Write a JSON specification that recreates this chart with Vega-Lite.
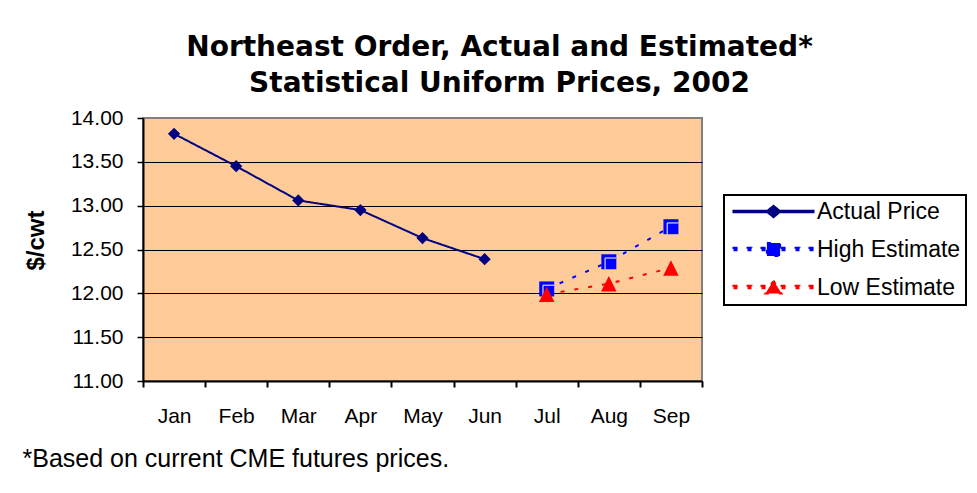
{
  "$schema": "https://vega.github.io/schema/vega-lite/v6.json",
  "width": 559,
  "height": 263,
  "autosize": "none",
  "padding": {"left": 143, "top": 118, "right": 275, "bottom": 112},
  "background": "white",
  "title": {
    "text": ["Northeast Order, Actual and Estimated*", "Statistical Uniform Prices, 2002"],
    "font": "DejaVu Sans",
    "fontSize": 28,
    "fontWeight": "bold",
    "color": "black",
    "anchor": "middle",
    "dx": 77,
    "offset": 9,
    "lineHeight": 36
  },
  "config": {
    "view": {"fill": "#FFCC99", "stroke": "#808080", "strokeWidth": 2},
    "font": "Liberation Sans",
    "legend": {"strokeWidth": 2}
  },
  "data": {
    "values": [
      {"month": "Jan", "series": "Actual Price", "price": 13.82},
      {"month": "Feb", "series": "Actual Price", "price": 13.45},
      {"month": "Mar", "series": "Actual Price", "price": 13.06},
      {"month": "Apr", "series": "Actual Price", "price": 12.95},
      {"month": "May", "series": "Actual Price", "price": 12.63},
      {"month": "Jun", "series": "Actual Price", "price": 12.39},
      {"month": "Jul", "series": "High Estimate", "price": 12.05},
      {"month": "Aug", "series": "High Estimate", "price": 12.36},
      {"month": "Sep", "series": "High Estimate", "price": 12.76},
      {"month": "Jul", "series": "Low Estimate", "price": 11.99},
      {"month": "Aug", "series": "Low Estimate", "price": 12.11},
      {"month": "Sep", "series": "Low Estimate", "price": 12.29}
    ]
  },
  "encoding": {
    "x": {
      "field": "month",
      "type": "nominal",
      "scale": {"type": "band", "paddingInner": 0, "paddingOuter": 0, "domain": ["Jan","Feb","Mar","Apr","May","Jun","Jul","Aug","Sep"]},
      "axis": {
        "title": "*Based on current CME futures prices.",
        "titleAnchor": "start",
        "titleAlign": "left",
        "titleX": -121,
        "titleY": 77,
        "titleBaseline": "middle",
        "titleFont": "Liberation Sans",
        "titleFontSize": 25,
        "titleFontWeight": "normal",
        "titleColor": "black",
        "tickBand": "extent",
        "labelAngle": 0,
        "labelFont": "Liberation Sans",
        "labelFontSize": 21,
        "labelColor": "black",
        "labelPadding": 18,
        "domainColor": "black",
        "domainWidth": 2,
        "tickColor": "black",
        "tickWidth": 2,
        "tickSize": 6,
        "grid": false
      }
    },
    "y": {
      "field": "price",
      "type": "quantitative",
      "scale": {"domain": [11, 14], "nice": false, "zero": false},
      "axis": {
        "title": "$/cwt",
        "titleFont": "Liberation Sans",
        "titleFontSize": 24,
        "titleFontWeight": "bold",
        "titleColor": "black",
        "titlePadding": 22,
        "titleY": 122,
        "values": [11, 11.5, 12, 12.5, 13, 13.5, 14],
        "format": ".2f",
        "labelFont": "Liberation Sans",
        "labelFontSize": 21,
        "labelColor": "black",
        "labelPadding": 14,
        "domainColor": "black",
        "domainWidth": 2,
        "tickColor": "black",
        "tickWidth": 1.5,
        "tickSize": 6,
        "grid": true,
        "gridColor": {"condition": {"test": "datum.value >= 14", "value": "#808080"}, "value": "black"},
        "gridWidth": 1,
        "gridOpacity": 1
      }
    }
  },
  "layer": [
    {
      "mark": {"type": "line", "strokeWidth": 2},
      "encoding": {
        "color": {
          "field": "series",
          "type": "nominal",
          "scale": {"domain": ["Actual Price", "High Estimate", "Low Estimate"], "range": ["#000080", "#0000FF", "#FF0000"]},
          "legend": {
            "title": null,
            "orient": "none",
            "legendX": 581,
            "legendY": 77,
            "strokeColor": "black",
            "fillColor": "white",
            "padding": 5,
            "rowPadding": 14,
            "labelFont": "Liberation Sans",
            "labelFontSize": 23,
            "labelColor": "black",
            "labelLimit": 300,
            "symbolSize": 144,
            "symbolStrokeWidth": 2,
            "symbolOffset": 33,
            "labelOffset": 32,
            "encode": {
              "symbols": {
                "update": {
                  "shape": {"signal": "datum.value === 'Actual Price' ? 'M-6.67,-0.12L6.67,-0.12L6.67,0.12L-6.67,0.12ZM-1.15,0L0,-0.95L1.15,0L0,0.95Z' : datum.value === 'High Estimate' ? 'M-6.67,-0.3L-6,-0.3L-6,0.3L-6.67,0.3ZM-4.33,-0.3L-3.67,-0.3L-3.67,0.3L-4.33,0.3ZM-2,-0.3L-1.33,-0.3L-1.33,0.3L-2,0.3ZM1.33,-0.3L2,-0.3L2,0.3L1.33,0.3ZM3.67,-0.3L4.33,-0.3L4.33,0.3L3.67,0.3ZM6,-0.3L6.67,-0.3L6.67,0.3L6,0.3ZM-1.1,-1.1L1.1,-1.1L1.1,1.1L-1.1,1.1Z' : 'M-6.67,-0.3L-6,-0.3L-6,0.3L-6.67,0.3ZM-4.33,-0.3L-3.67,-0.3L-3.67,0.3L-4.33,0.3ZM-2,-0.3L-1.33,-0.3L-1.33,0.3L-2,0.3ZM1.33,-0.3L2,-0.3L2,0.3L1.33,0.3ZM3.67,-0.3L4.33,-0.3L4.33,0.3L3.67,0.3ZM6,-0.3L6.67,-0.3L6.67,0.3L6,0.3ZM0,-1.15L1.35,1L-1.35,1Z'"},
                  "fill": {"signal": "datum.value === 'Actual Price' ? '#000080' : datum.value === 'High Estimate' ? '#0000FF' : '#FF0000'"},
                  "stroke": {"value": "transparent"},
                  "opacity": {"value": 1},
                  "fillOpacity": {"value": 1}
                }
              }
            }
          }
        },
        "strokeDash": {
          "field": "series",
          "type": "nominal",
          "scale": {"domain": ["Actual Price", "High Estimate", "Low Estimate"], "range": [[1, 0], [4, 10], [4, 10]]},
          "legend": null
        }
      }
    },
    {
      "transform": [{"filter": "datum.series === 'Actual Price'"}],
      "mark": {"type": "point", "filled": true, "shape": "diamond", "size": 150, "color": "#000080", "opacity": 1},
      "encoding": {}
    },
    {
      "transform": [{"filter": "datum.series === 'High Estimate'"}],
      "mark": {"type": "point", "filled": true, "shape": "square", "size": 225, "color": "#0000FF", "opacity": 1},
      "encoding": {}
    },
    {
      "transform": [{"filter": "datum.series === 'High Estimate'"}],
      "mark": {"type": "point", "filled": false, "shape": "M-0.5,1L-0.5,-0.5L1,-0.5", "size": 225, "stroke": "white", "strokeWidth": 1, "opacity": 1},
      "encoding": {}
    },
    {
      "transform": [{"filter": "datum.series === 'Low Estimate'"}],
      "mark": {"type": "point", "filled": true, "shape": "M0,-1L1,1L-1,1Z", "size": 240, "color": "#FF0000", "opacity": 1},
      "encoding": {}
    }
  ]
}
